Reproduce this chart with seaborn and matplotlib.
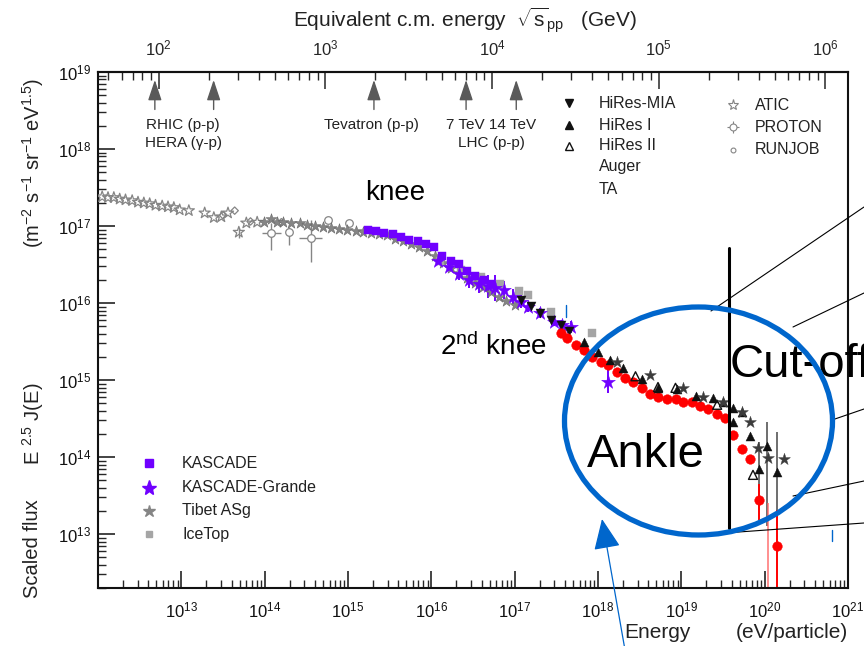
import numpy as np
import pandas as pd
import matplotlib
matplotlib.use("Agg")
import matplotlib.pyplot as plt
import seaborn as sns
from matplotlib.patches import Ellipse, FancyArrowPatch
from matplotlib.lines import Line2D
from matplotlib.ticker import FixedLocator, LogLocator, NullFormatter

# ---------------- data: log10(E / eV), log10(scaled flux) ----------------
atic_logE = [12.05, 12.12, 12.19, 12.26, 12.33, 12.41, 12.48, 12.55, 12.62, 12.69, 12.77, 12.84,
             12.91, 12.98, 13.09, 13.28, 13.39, 13.48, 13.56, 13.69, 13.78, 13.91]
atic_logF = [17.38, 17.37, 17.37, 17.35, 17.34, 17.33, 17.31, 17.30, 17.29, 17.27, 17.26, 17.25,
             17.24, 17.21, 17.20, 17.17, 17.11, 17.12, 17.17, 16.92, 17.04, 17.05]
atic_dlo = [0] * 19 + [0.08, 0, 0]
atic_dhi = [0] * 19 + [0.06, 0, 0]

tibet_logE = [13.99, 14.08, 14.15, 14.22, 14.32, 14.42, 14.51, 14.61, 14.70, 14.80, 14.89, 14.99,
              15.09, 15.18, 15.28, 15.37, 15.47, 15.56, 15.66, 15.76, 15.85, 15.95, 16.04, 16.14,
              16.23, 16.33, 16.43, 16.52, 16.62, 16.71, 16.81, 16.90, 17.00]
tibet_logF = [17.05, 17.09, 17.05, 17.05, 17.04, 17.04, 17.02, 17.00, 16.99, 16.98, 16.96, 16.95,
              16.94, 16.92, 16.91, 16.90, 16.89, 16.83, 16.81, 16.77, 16.73, 16.68, 16.61, 16.52,
              16.46, 16.39, 16.33, 16.26, 16.21, 16.15, 16.08, 16.03, 15.98]

proton_logE = [14.08, 14.29, 14.55, 14.76, 15.01]
proton_logF = [16.91, 16.92, 16.85, 17.08, 17.04]
proton_dlo = [0.22, 0.17, 0.32, 0.03, 0.03]
proton_dhi = [0.13, 0.07, 0.23, 0.03, 0.03]
proton_dE = [0.11, 0.0, 0.14, 0.0, 0.0]

runjob_logE = [13.50, 13.64, 13.83, 14.20]
runjob_logF = [17.14, 17.20, 17.06, 17.05]

kascade_logE = [15.24, 15.34, 15.43, 15.54, 15.64, 15.73, 15.84, 15.94, 16.03, 16.13, 16.23, 16.33,
                16.43, 16.52, 16.63, 16.72]
kascade_logF = [16.95, 16.94, 16.91, 16.90, 16.86, 16.82, 16.80, 16.77, 16.73, 16.61, 16.54, 16.51,
                16.42, 16.35, 16.30, 16.25]

grande_logE = [16.08, 16.21, 16.33, 16.45, 16.57, 16.68, 16.77, 16.87, 16.98, 17.07, 17.16, 17.31,
               17.47, 17.57, 17.67, 18.12]
grande_logF = [16.54, 16.47, 16.38, 16.30, 16.25, 16.22, 16.20, 16.17, 16.08, 16.02, 15.95, 15.87,
               15.76, 15.71, 15.69, 14.98]
grande_err = [0.05, 0.06, 0.08, 0.10, 0.12, 0.15, 0.17, 0.12, 0.10, 0.08, 0.07, 0.06, 0.06, 0.07,
              0.08, 0.15]

icetop_logE = [16.11, 16.35, 16.59, 16.83, 17.05, 17.16, 17.43, 17.93]
icetop_logF = [16.54, 16.43, 16.34, 16.25, 16.16, 16.11, 15.89, 15.61]

hiresmia_logE = [17.07, 17.19, 17.31, 17.43, 17.55, 17.65]
hiresmia_logF = [16.04, 15.96, 15.87, 15.78, 15.72, 15.64]

hires1_logE = [17.83, 18.00, 18.15, 18.30, 18.53, 18.72, 18.95, 19.17, 19.38, 19.50, 19.62, 19.62,
               19.73, 19.83, 19.93, 20.03, 20.15]
hires1_logF = [15.50, 15.37, 15.26, 15.16, 15.01, 14.90, 14.88, 14.80, 14.77, 14.71, 14.64, 14.45,
               14.59, 14.28, 13.84, 14.15, 13.81]
hires1_dlo = [0] * 14 + [0.52, 1.05, 0.71]
hires1_dhi = [0] * 14 + [0.35, 0.31, 0.52]

hires2_logE = [18.45, 18.72, 18.93, 19.43, 19.86]
hires2_logF = [15.05, 14.91, 14.90, 14.68, 13.77]

ta_logE = [18.23, 18.63, 19.02, 19.26, 19.50, 19.73, 19.82, 19.92, 20.04, 20.23]
ta_logF = [15.23, 15.06, 14.90, 14.78, 14.71, 14.59, 14.46, 14.12, 13.99, 13.98]

auger_logE = [17.55, 17.63, 17.73, 17.83, 17.93, 18.03, 18.12, 18.23, 18.33, 18.42, 18.53, 18.63,
              18.72, 18.83, 18.93, 19.02, 19.13, 19.22, 19.32, 19.43, 19.52, 19.62, 19.73, 19.82,
              19.93, 20.15]
auger_logF = [15.61, 15.55, 15.46, 15.39, 15.30, 15.23, 15.20, 15.11, 15.03, 14.98, 14.90, 14.82,
              14.78, 14.76, 14.75, 14.72, 14.71, 14.66, 14.63, 14.56, 14.51, 14.29, 14.11, 13.98,
              13.44, 12.85]
auger_dlo = [0] * 24 + [0.25, 1.0]
auger_dhi = [0] * 24 + [0.21, 0.47]
auger_bar_logE = [20.04]
auger_bar_lo = [12.0]
auger_bar_hi = [13.41]

collider_sqrts_GeV = [95, 214, 1960, 7000, 14000]
x_major_logE = [13, 14, 15, 16, 17, 18, 19, 20, 21]
y_major_logF = [13, 14, 15, 16, 17, 18, 19]
top_major_logS = [2, 3, 4, 5, 6]

left_legend = ["KASCADE", "KASCADE-Grande", "Tibet ASg", "IceTop"]
right_legend = ["HiRes-MIA", "HiRes I", "HiRes II", "Auger", "TA"]
right_legend2 = ["ATIC", "PROTON", "RUNJOB"]

# ---------------- style ----------------
sns.set_style("ticks")
plt.rcParams["font.family"] = ["Liberation Sans", "DejaVu Sans"]
plt.rcParams.update({
    "mathtext.fontset": "custom",
    "mathtext.rm": "Liberation Sans",
    "mathtext.it": "Liberation Sans:italic",
    "mathtext.bf": "Liberation Sans:bold",
    "mathtext.sf": "Liberation Sans",
    "axes.linewidth": 1.5,
    "axes.edgecolor": "#111111",
})

PURPLE = "#7000ff"
RED = "#ff0000"
GRAY = "#858585"
LGRAY = "#a5a5a5"
BLACK = "#111111"
DARK = "#3c3c3c"
BLUE = "#0066cc"
TXT = "#222222"

W, H = 864, 646
fig = plt.figure(figsize=(W / 100, H / 100), dpi=100)
ax = fig.add_axes([98 / W, 1 - 588 / H, (848 - 98) / W, (588 - 72) / H])
ax.set_xscale("log")
ax.set_yscale("log")


def P(x, y):
    return x / W, 1 - y / H


def series(logE, logF, **kw):
    df = pd.DataFrame({"E": 10 ** np.asarray(logE, float), "F": 10 ** np.asarray(logF, float)})
    sns.scatterplot(data=df, x="E", y="F", ax=ax, legend=False, **kw)


def errs(logE, logF, dlo, dhi, color, lw=1.0, dE=None, alpha=1.0, z=2):
    E = 10 ** np.asarray(logE, float)
    F = 10 ** np.asarray(logF, float)
    dlo = np.asarray(dlo, float)
    dhi = np.asarray(dhi, float)
    yerr = [F - F / 10 ** dlo, F * 10 ** dhi - F]
    xerr = None
    if dE is not None:
        dE = np.asarray(dE, float)
        xerr = [E - E / 10 ** dE, E * 10 ** dE - E]
    ax.errorbar(E, F, yerr=yerr, xerr=xerr, fmt="none", ecolor=color, elinewidth=lw,
                capsize=0, alpha=alpha, zorder=z)


# error bars
errs(atic_logE, atic_logF, atic_dlo, atic_dhi, GRAY)
errs(proton_logE, proton_logF, proton_dlo, proton_dhi, GRAY, dE=proton_dE)
errs(grande_logE, grande_logF, grande_err, grande_err, PURPLE, lw=1.4)
errs(hires1_logE, hires1_logF, hires1_dlo, hires1_dhi, "#555555", lw=1.2)
errs(auger_logE, auger_logF, auger_dlo, auger_dhi, RED, lw=1.4)
ax.vlines(10 ** np.asarray(auger_bar_logE), 10 ** np.asarray(auger_bar_lo),
          10 ** np.asarray(auger_bar_hi), color="#ff6060", lw=1.4, alpha=0.7)

# markers
series(atic_logE, atic_logF, marker="*", s=70, color=GRAY, facecolor="none", edgecolor=GRAY,
       linewidth=0.9, zorder=3)
series(runjob_logE, runjob_logF, marker="D", s=14, color=GRAY, facecolor="none", edgecolor=GRAY,
       linewidth=0.9, zorder=3)
series(proton_logE, proton_logF, marker="o", s=30, color=GRAY, facecolor="white", edgecolor=GRAY,
       linewidth=0.9, zorder=3)
series(tibet_logE, tibet_logF, marker="*", s=70, color=GRAY, edgecolor="#6a6a6a", linewidth=0.4,
       zorder=3)
series(icetop_logE, icetop_logF, marker="s", s=28, color=LGRAY, edgecolor=LGRAY, linewidth=0.3,
       zorder=3)
series(kascade_logE, kascade_logF, marker="s", s=36, color=PURPLE, edgecolor=PURPLE,
       linewidth=0.3, zorder=4)
series(grande_logE, grande_logF, marker="*", s=110, color=PURPLE, edgecolor=PURPLE,
       linewidth=0.3, zorder=4)
series(hiresmia_logE, hiresmia_logF, marker="v", s=42, color=BLACK, edgecolor=BLACK,
       linewidth=0.3, zorder=5)
series(auger_logE, auger_logF, marker="o", s=48, color=RED, edgecolor=RED, linewidth=0.3,
       zorder=5)
series(hires1_logE, hires1_logF, marker="^", s=42, color=BLACK, edgecolor=BLACK, linewidth=0.3,
       zorder=6)
series(hires2_logE, hires2_logF, marker="^", s=42, color=BLACK, facecolor="none",
       edgecolor=BLACK, linewidth=1.0, zorder=6)
series(ta_logE, ta_logF, marker="*", s=80, color=DARK, edgecolor=DARK, linewidth=0.3, zorder=6)

ax.set_xlim(1e12, 1e21)
ax.set_ylim(2e12, 1e19)
ax.set_xlabel("")
ax.set_ylabel("")
ax.xaxis.set_major_locator(FixedLocator(10.0 ** np.asarray(x_major_logE)))
ax.xaxis.set_minor_locator(LogLocator(base=10, subs=np.arange(2, 10), numticks=30))
ax.xaxis.set_minor_formatter(NullFormatter())
ax.yaxis.set_major_locator(FixedLocator(10.0 ** np.asarray(y_major_logF)))
ax.yaxis.set_minor_locator(LogLocator(base=10, subs=np.arange(2, 10), numticks=30))
ax.yaxis.set_minor_formatter(NullFormatter())

ax.tick_params(axis="both", which="major", direction="in", length=12, width=1.1,
               labelsize=12, colors=BLACK, top=False, right=False)
ax.tick_params(axis="both", which="minor", direction="in", length=6, width=1.0,
               top=False, right=False)
ax.tick_params(axis="x", pad=9)
ax.tick_params(axis="y", pad=5)
for sp in ax.spines.values():
    sp.set_visible(True)
    sp.set_linewidth(1.5)


# top axis: equivalent c.m. energy
def fwd(E):
    E = np.asarray(E, float)
    return np.sqrt(2 * 0.938e9 * np.clip(E, 1e-300, None)) / 1e9


def inv(s):
    s = np.asarray(s, float)
    return (s * 1e9) ** 2 / (2 * 0.938e9)


sec = ax.secondary_xaxis("top", functions=(fwd, inv))
sec.xaxis.set_major_locator(FixedLocator(10.0 ** np.asarray(top_major_logS)))
sec.xaxis.set_minor_locator(LogLocator(base=10, subs=np.arange(2, 10), numticks=30))
sec.xaxis.set_minor_formatter(NullFormatter())
sec.tick_params(axis="x", which="major", direction="in", length=12, width=1.1, labelsize=12,
                pad=10)
sec.tick_params(axis="x", which="minor", direction="in", length=6, width=1.0)

# collider arrows
for sq in collider_sqrts_GeV:
    E = float(inv(sq))
    ax.annotate("", xy=(E, 0.990), xycoords=("data", "axes fraction"),
                xytext=(E, 0.922), textcoords=("data", "axes fraction"),
                arrowprops=dict(arrowstyle="-|>,head_length=0.9,head_width=0.3",
                                color="#5a5a5a", lw=1.0, mutation_scale=14))

tk = dict(fontsize=11, color=TXT, va="center")
fig.text(*P(146, 125), "RHIC (p-p)", ha="left", **tk)
fig.text(*P(145, 143), "HERA (\u03b3-p)", ha="left", **tk)
fig.text(*P(371, 125), "Tevatron (p-p)", ha="center", **tk)
fig.text(*P(491, 125), "7 TeV 14 TeV", ha="center", **tk)
fig.text(*P(491, 143), "LHC (p-p)", ha="center", **tk)

# axis titles
fig.text(*P(465, 20), r"Equivalent c.m. energy  $\sqrt{\mathrm{s}}_{\rm pp}$   (GeV)",
         ha="center", va="center", fontsize=15, color=TXT)
yl = dict(rotation=90, ha="center", va="center", fontsize=14.5, color=TXT)
fig.text(*P(33, 549), "Scaled flux", **yl)
fig.text(*P(33, 424), r"E $^{2.5}$ J(E)", **yl)
fig.text(*P(33, 163), r"(m$^{-2}$ s$^{-1}$ sr$^{-1}$ eV$^{1.5}$)", **yl)
fig.text(*P(624, 632), "Energy", ha="left", va="center", fontsize=15, color=TXT)
fig.text(*P(848, 632), "(eV/particle)", ha="right", va="center", fontsize=15, color=TXT)

# legends (manual)
lt = dict(fontsize=11.5, color=TXT, va="center", ha="left")
left_mk = [dict(marker="s", color=PURPLE, ms=6), dict(marker="*", color=PURPLE, ms=11),
           dict(marker="*", color=GRAY, ms=9), dict(marker="s", color=LGRAY, ms=5)]
for i, (lab, mk) in enumerate(zip(left_legend, left_mk)):
    y = [463, 488, 511, 534][i]
    fig.add_artist(Line2D([149 / W], [1 - y / H], linestyle="none", transform=fig.transFigure,
                          mec=mk["color"], mfc=mk["color"], marker=mk["marker"], ms=mk["ms"]))
    fig.text(*P(182, y), lab, **lt)

right_mk = [dict(marker="v", mfc=BLACK, mec=BLACK), dict(marker="^", mfc=BLACK, mec=BLACK),
            dict(marker="^", mfc="none", mec=BLACK), None, None]
for i, (lab, mk) in enumerate(zip(right_legend, right_mk)):
    y = [103, 125, 146, 167, 189][i]
    if mk is not None:
        fig.add_artist(Line2D([569 / W], [1 - y / H], linestyle="none",
                              transform=fig.transFigure, marker=mk["marker"], ms=5.5,
                              mfc=mk["mfc"], mec=mk["mec"], mew=1.0))
    fig.text(*P(599, y), lab, **lt)

for i, lab in enumerate(right_legend2):
    y = [105, 127, 150][i]
    if i == 0:
        fig.add_artist(Line2D([733 / W], [1 - y / H], linestyle="none",
                              transform=fig.transFigure, marker="*", ms=8, mfc="none",
                              mec=GRAY, mew=0.8))
    elif i == 1:
        fig.add_artist(Line2D([733 / W], [1 - y / H], linestyle="none",
                              transform=fig.transFigure, marker="+", ms=9, mec=GRAY, mew=0.8))
        fig.add_artist(Line2D([733 / W], [1 - y / H], linestyle="none",
                              transform=fig.transFigure, marker="o", ms=5, mfc="white",
                              mec=GRAY, mew=0.8))
    else:
        fig.add_artist(Line2D([733 / W], [1 - y / H], linestyle="none",
                              transform=fig.transFigure, marker="o", ms=3.5, mfc="none",
                              mec=GRAY, mew=0.8))
    fig.text(*P(755, y), lab, **lt)

# slide annotations
fig.text(*P(365, 200), "knee", fontsize=20, ha="left", va="baseline", color="black")
fig.text(*P(440, 355), r"2$^{\rm nd}$ knee", fontsize=20, ha="left", va="baseline",
         color="black")
fig.text(*P(730, 377), "Cut-off", fontsize=34, ha="left", va="baseline", color="black",
         zorder=12)
fig.text(*P(587, 467), "Ankle", fontsize=34, ha="left", va="baseline", color="black",
         zorder=12)


def fline(p, q, lw=0.8, color="black", z=11):
    fig.add_artist(Line2D([p[0] / W, q[0] / W], [1 - p[1] / H, 1 - q[1] / H],
                          transform=fig.transFigure, lw=lw, color=color, zorder=z))


fline((729, 248), (729, 528), lw=2.2)
fline((864, 207), (711, 311))
fline((864, 293), (793, 327))
fline((864, 409), (832, 420))
fline((864, 481), (793, 496))
fline((864, 523), (697, 535))
fline((566, 305), (566, 317), lw=1.0, color=BLUE)
fline((832, 530), (832, 541), lw=1.0, color=BLUE)

fig.add_artist(Ellipse(P(698.5, 421), 268 / W, 228 / H, transform=fig.transFigure,
                       fill=False, ec=BLUE, lw=3.8, zorder=13))
fig.add_artist(FancyArrowPatch(P(625, 650), P(602, 519), transform=fig.transFigure,
                               arrowstyle="-|>,head_length=1.6,head_width=0.7",
                               mutation_scale=12, color=BLUE, lw=0.9, zorder=13,
                               shrinkA=0, shrinkB=0))

fig.savefig("out.png", dpi=100)
